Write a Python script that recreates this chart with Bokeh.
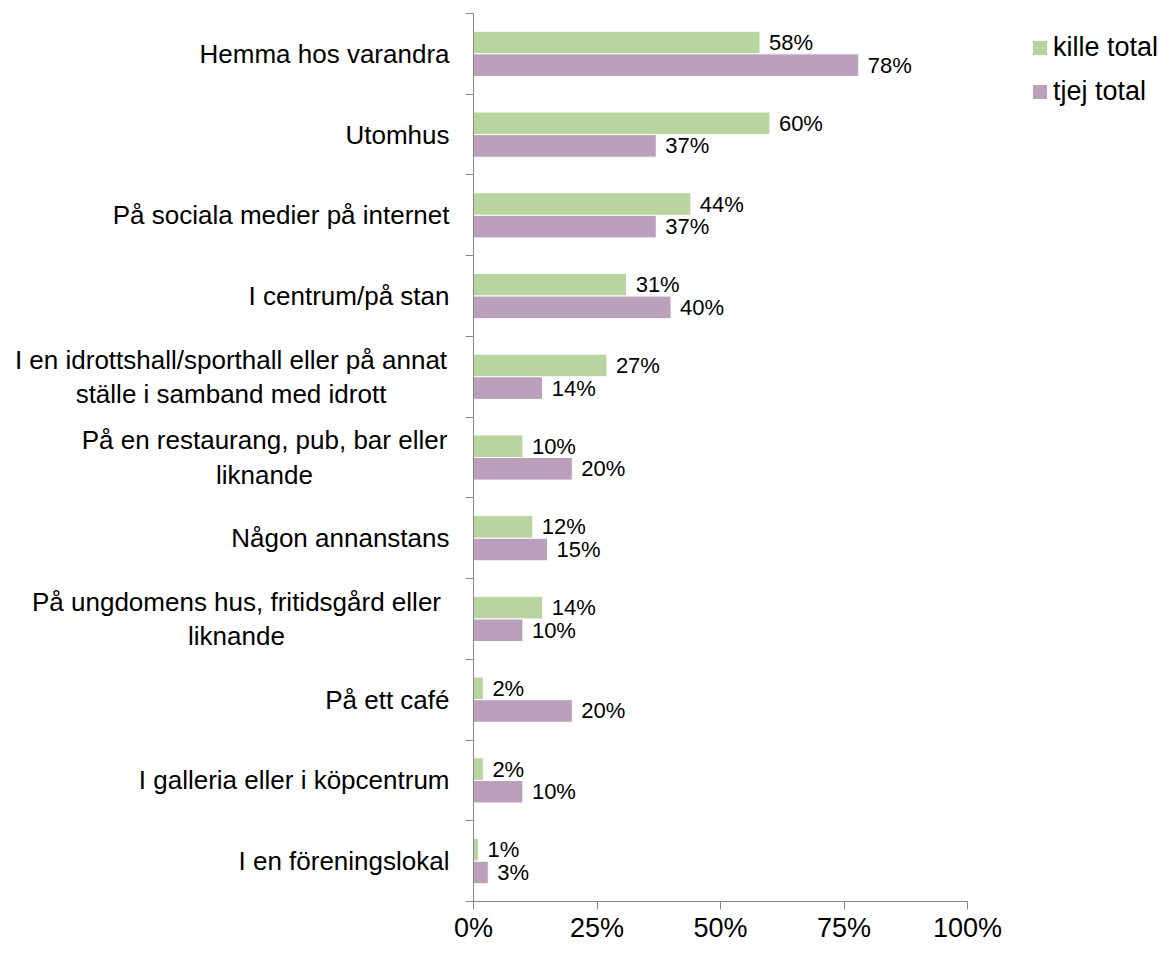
from bokeh.plotting import figure
from bokeh.layouts import row
from bokeh.models import (ColumnDataSource, Range1d, FixedTicker, PrintfTickFormatter,
                          Legend, LegendItem, CustomJSTickFormatter)
from bokeh.core.properties import value
from bokeh.embed import file_html
from bokeh.resources import INLINE

categories = [
    "Hemma hos varandra",
    "Utomhus",
    "På sociala medier på internet",
    "I centrum/på stan",
    "I en idrottshall/sporthall eller på annat\nställe i samband med idrott",
    "På en restaurang, pub, bar eller\nliknande",
    "Någon annanstans",
    "På ungdomens hus, fritidsgård eller\nliknande",
    "På ett café",
    "I galleria eller i köpcentrum",
    "I en föreningslokal",
]
kille_total = [58, 60, 44, 31, 27, 10, 12, 14, 2, 2, 1]
tjej_total = [78, 37, 37, 40, 14, 20, 15, 10, 20, 10, 3]
x_ticks = [0, 25, 50, 75, 100]
series_names = ["kille total", "tjej total"]

FONT = "Liberation Sans"
GREEN = "#B9D59F"
PURPLE = "#BBA0BB"
AXIS = "#888888"

n = len(categories)
idx = list(range(n))
bar_h = 0.28

# layout constants (pixels)
LABEL_W = 453
MAIN_LEFT = 20
TOP = 13
FRAME_H = 888
FRAME_W = 1159 - LABEL_W - MAIN_LEFT
PX_PER_100 = 494
x_end = FRAME_W * 100 / PX_PER_100

src_k = ColumnDataSource(dict(y=[i + 0.5 - bar_h / 2 for i in idx], v=kille_total,
                              lab=[f"{v}%" for v in kille_total]))
src_t = ColumnDataSource(dict(y=[i + 0.5 + bar_h / 2 for i in idx], v=tjej_total,
                              lab=[f"{v}%" for v in tjej_total]))

y_range = Range1d(n, 0)

# ---- label figure (category names) ----
pl = figure(frame_width=LABEL_W, frame_height=FRAME_H, x_range=Range1d(0, LABEL_W),
            y_range=y_range, output_backend="svg", toolbar_location=None,
            x_axis_location=None, y_axis_location=None,
            min_border_left=0, min_border_right=0, min_border_top=TOP, min_border_bottom=42)
pl.outline_line_color = None
pl.xgrid.visible = False
pl.ygrid.visible = False

single = [i for i in idx if "\n" not in categories[i]]
multi = [i for i in idx if "\n" in categories[i]]
multi_centre = {4: 230.5, 5: 264, 7: 236}
src_c1 = ColumnDataSource(dict(x=[LABEL_W - 4] * len(single), y=[i + 0.5 for i in single],
                               t=[categories[i] for i in single]))
src_c2 = ColumnDataSource(dict(x=[multi_centre[i] for i in multi], y=[i + 0.5 for i in multi],
                               t=[categories[i] for i in multi]))
pl.text(x="x", y="y", text="t", source=src_c1, text_align="right", text_baseline="middle",
        text_font=value(FONT), text_font_size="26px", text_color="#000000")
pl.text(x="x", y="y", text="t", source=src_c2, text_align="center", text_baseline="middle",
        text_font=value(FONT), text_font_size="26px", text_color="#000000",
        text_line_height=1.15)

# ---- main figure ----
p = figure(frame_width=FRAME_W, frame_height=FRAME_H,
           x_range=Range1d(0, x_end), y_range=y_range,
           output_backend="svg", toolbar_location=None,
           min_border_left=MAIN_LEFT, min_border_right=0, min_border_top=TOP, min_border_bottom=10)
p.outline_line_color = None
p.xgrid.visible = False
p.ygrid.visible = False

rk = p.hbar(y="y", right="v", left=0, height=bar_h, source=src_k,
            fill_color=GREEN, line_color="white", line_width=1)
rt = p.hbar(y="y", right="v", left=0, height=bar_h, source=src_t,
            fill_color=PURPLE, line_color="white", line_width=1)

for s in (src_k, src_t):
    p.text(x="v", y="y", text="lab", source=s, x_offset=9, text_baseline="middle",
           text_align="left", text_font=value(FONT), text_font_size="22px", text_color="#000000")

xa = p.xaxis[0]
xa.bounds = (0, 100)
xa.ticker = FixedTicker(ticks=x_ticks)
xa.formatter = PrintfTickFormatter(format="%d%%")
xa.major_label_text_font = FONT
xa.major_label_text_font_size = "27px"
xa.major_label_text_color = "#000000"
xa.axis_line_color = AXIS
xa.major_tick_line_color = AXIS
xa.major_tick_out = 8
xa.major_tick_in = 0
xa.minor_tick_line_color = None
xa.major_label_standoff = 3

ya = p.yaxis[0]
ya.ticker = FixedTicker(ticks=list(range(n + 1)))
ya.formatter = CustomJSTickFormatter(code="return ''")
ya.axis_line_color = AXIS
ya.major_tick_line_color = AXIS
ya.major_tick_out = 8
ya.major_tick_in = 0
ya.minor_tick_line_color = None
ya.major_label_text_font_size = "1px"
ya.major_label_standoff = 0

legend = Legend(items=[LegendItem(label=series_names[0], renderers=[rk]),
                       LegendItem(label=series_names[1], renderers=[rt])],
                location=(557, FRAME_H - 100), orientation="vertical",
                label_text_font=FONT, label_text_font_size="27px", label_text_color="#000000",
                glyph_width=19, glyph_height=19, label_standoff=4, spacing=0,
                label_height=44, padding=0, margin=0,
                border_line_color=None, background_fill_alpha=0)
p.add_layout(legend, "center")

layout = row(pl, p, spacing=0)
open("out.html", "w").write(file_html(layout, INLINE))
